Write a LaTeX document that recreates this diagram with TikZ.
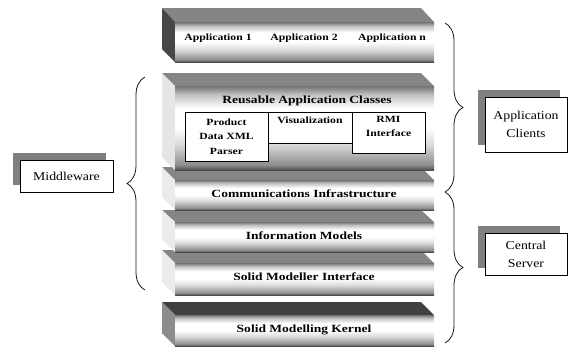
\documentclass[tikz,border=0pt]{standalone}
\usepackage{fontspec}
\setmainfont{Liberation Serif}
\newfontfamily\slabfont[FakeStretch=1.23]{Liberation Serif}
\newfontfamily\tagfont[FakeStretch=1.15]{Liberation Serif}
\usetikzlibrary{decorations.pathreplacing, shadows}

\pgfdeclareverticalshading{metal}{100bp}{color(0bp)=(black!70); color(25bp)=(black!70); color(28bp)=(black!45); color(40bp)=(black!15); color(50bp)=(white); color(62bp)=(white); color(70bp)=(black!25); color(75bp)=(black!55); color(100bp)=(black!55)}

\begin{document}
\begin{tikzpicture}[x=1pt, y=-1pt,
    title/.style={font=\slabfont\bfseries\fontsize{11}{13}\selectfont},
    small/.style={font=\slabfont\bfseries\fontsize{9.5}{14.5}\selectfont, align=center},
    innerbox/.style={draw, thick, fill=white, inner sep=0pt},
    tagbox/.style={draw, thick, fill=white, align=center, inner sep=0pt,
      font=\tagfont\fontsize{12}{18}\selectfont,
      drop shadow={shadow xshift=-7pt, shadow yshift=7pt, fill=black!50, opacity=1}},
    brace/.style={decorate, decoration={brace, amplitude=18pt}, line width=0.8pt, black!90}]

    \useasboundingbox (0,0) rectangle (568,349);

    % Slabs, bottom one first
    % back & front & bottom & top colour & side colour
    \foreach \back/\front/\bottom/\topcol/\sidecol in {
        302/315/346/black!75/black!45,
        250/263/295/black!48/black!8,
        210/222/252/black!48/black!8,
        167/180/210/black!48/black!8,
        73/86/170/black!48/black!10,
        8/22/62/black!48/black!72} {
      \fill[\topcol] (162,\back) -- (421,\back) -- (434,\front) -- (175,\front) -- cycle;
      \fill[\sidecol] (162,\back) -- (175,\front) -- (175,\bottom) -- (162,{\bottom-13}) -- cycle;
      \shade[shading=metal] (175,\front) rectangle (434,\bottom);
    }

    % Layer titles
    \node[title] (kernel) at (304,330) {Solid Modelling Kernel};
    \node[title] (smi) at (304,277) {Solid Modeller Interface};
    \node[title] (info) at (304,236) {Information Models};
    \node[title] (comm) at (304,194) {Communications Infrastructure};
    \node[title] (reuse) at (307,101) {Reusable Application Classes};
    \node[small] (app1) at (218,38) {Application 1};
    \node[small] (app2) at (304,38) {Application 2};
    \node[small] (appn) at (392,38) {Application n};

    % Classes
    \node[innerbox, small, minimum width=83pt, minimum height=49pt] (parser) at (226.5,136.5) {Product\\Data XML\\Parser};
    \node[innerbox, minimum width=84pt, minimum height=31pt] (vis) at (310,127.5) {};
    \node[small, anchor=north, inner sep=5pt] (vislabel) at (vis.north) {Visualization};
    \node[innerbox, minimum width=73pt, minimum height=41pt] (rmi) at (388.5,132.5) {};
    \node[small, anchor=north, inner sep=4pt] (rmilabel) at (rmi.north) {RMI\\Interface};

    % Tags
    \node[tagbox, minimum width=93pt, minimum height=32pt] (middleware) at (66.5,176) {Middleware};
    \node[tagbox, minimum width=82pt, minimum height=55pt] (clients) at (526,124.5) {Application\\Clients};
    \node[tagbox, minimum width=82pt, minimum height=42pt] (server) at (526,254) {Central\\Server};

    % Braces
    \coordinate (lbtop) at (145,77);
    \coordinate (lbbot) at (145,290);
    \coordinate (rbtop) at (445,23);
    \coordinate (rbmid) at (445,192);
    \coordinate (rbbot) at (445,343);
    \draw[brace] (lbbot) -- (lbtop);
    \draw[brace] (rbtop) -- (rbmid);
    \draw[brace] (rbmid) -- (rbbot);

\end{tikzpicture}
\end{document}
